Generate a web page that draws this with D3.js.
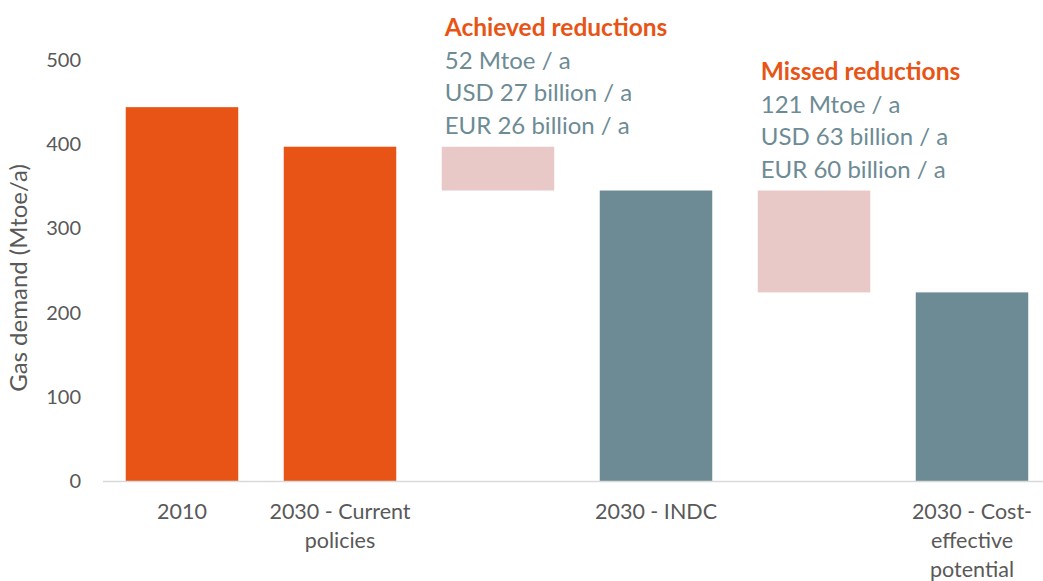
<!DOCTYPE html>
<html>
<head>
<meta charset="utf-8">
<script src="https://cdn.jsdelivr.net/npm/d3@7"></script>
<style>
  body { margin: 0; background: #fff; }
  text { font-family: Lato, "Open Sans", sans-serif; }
</style>
</head>
<body>
<div id="graf"></div>
<script>
// data
var categories = ["2010", "2030 - Current policies", "gap1", "2030 - INDC", "gap2", "2030 - Cost-effective potential"]
var tickLabels = [["2010"], ["2030 - Current", "policies"], [], ["2030 - INDC"], [], ["2030 - Cost-", "effective", "potential"]]
var baseValues = [0, 0, 345, 0, 224, 0]
var topValues = [444, 397, 397, 345, 345, 224]
var barKind = ["main", "main", "gap", "alt", "gap", "alt"]
var yTicks = [0, 100, 200, 300, 400, 500]
var notes = [
  { cat: "gap1", title: "Achieved reductions", lines: ["52 Mtoe / a", "USD 27 billion / a", "EUR 26 billion / a"] },
  { cat: "gap2", title: "Missed reductions", lines: ["121 Mtoe / a", "USD 63 billion / a", "EUR 60 billion / a"] }
]

var colors = { main: "#E85415", alt: "#6D8B94", gap: "#E8C9C7" }

function render() {
  var W = 1043, H = 581

  var x = d3.scaleBand()
            .domain(categories)
            .range([103, 1051])
            .paddingInner(0.288)
            .paddingOuter(0.144)

  var y = d3.scaleLinear()
            .domain([0, 500])
            .range([481, 60])

  var svg = d3.select('#graf')
              .append('svg')
              .attr('width', W)
              .attr('height', H)

  // y tick labels (no axis line)
  svg.append("g")
    .selectAll("text")
    .data(yTicks)
    .join("text")
    .attr("x", 81)
    .attr("y", d => y(d))
    .attr("dy", "0.35em")
    .attr("text-anchor", "end")
    .attr("fill", "#595959")
    .style("font-size", "20px")
    .text(d => d)

  // y title
  svg.append("text")
    .attr("transform", "translate(27,278) rotate(-90)")
    .attr("text-anchor", "middle")
    .attr("fill", "#595959")
    .style("font-size", "24px")
    .text("Gas demand (Mtoe/a)")

  // bars
  svg.append("g")
    .selectAll("rect")
    .data(categories)
    .join("rect")
    .attr("x", d => x(d))
    .attr("width", x.bandwidth())
    .attr("y", (d, i) => y(topValues[i]))
    .attr("height", (d, i) => y(baseValues[i]) - y(topValues[i]))
    .attr("fill", (d, i) => colors[barKind[i]])

  // x axis line
  svg.append("line")
    .attr("x1", 103).attr("x2", 1051)
    .attr("y1", y(0) + 0.5).attr("y2", y(0) + 0.5)
    .attr("stroke", "#D9D9D9")
    .attr("stroke-width", 1.5)

  // x labels
  var xl = svg.append("g")
    .selectAll("text")
    .data(categories)
    .join("text")
    .attr("text-anchor", "middle")
    .attr("fill", "#595959")
    .style("font-size", "21.5px")

  xl.selectAll("tspan")
    .data((d, i) => tickLabels[i].map(t => ({ t: t, c: d })))
    .join("tspan")
    .attr("x", d => x(d.c) + x.bandwidth() / 2)
    .attr("y", (d, j) => 519 + j * 29)
    .text(d => d.t)

  // annotations
  notes.forEach(function(n) {
    var i = categories.indexOf(n.cat)
    var bottom = y(topValues[i]) - 21
    var left = x(n.cat) + 3
    var lh = 32.7
    var g = svg.append("g")
    g.append("text")
      .attr("x", left)
      .attr("y", bottom - 3 * lh)
      .attr("dy", "0.35em")
      .attr("fill", "#E85415")
      .attr("font-weight", "bold")
      .style("font-size", "24.5px")
      .text(n.title)
    g.selectAll("text.l")
      .data(n.lines)
      .join("text")
      .attr("class", "l")
      .attr("x", left)
      .attr("y", (d, j) => bottom - (2 - j) * lh)
      .attr("dy", "0.35em")
      .attr("fill", "#6D8B94")
      .style("font-size", "24px")
      .text(d => d)
  })
}

render()
</script>
</body>
</html>
